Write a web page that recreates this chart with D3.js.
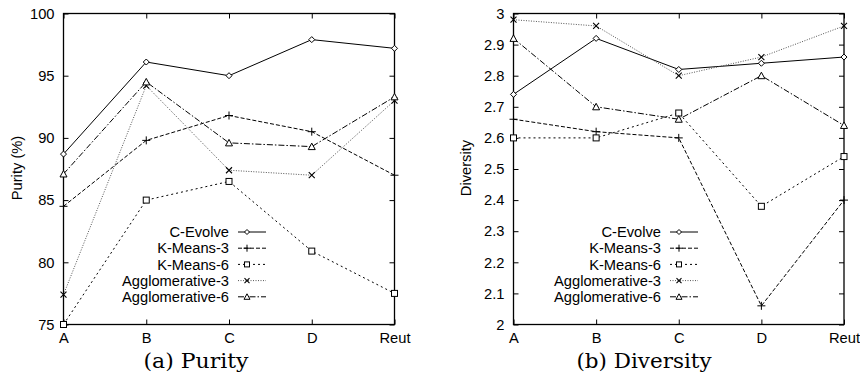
<!DOCTYPE html>
<html>
<head>
<meta charset="utf-8">
<script src="https://cdn.jsdelivr.net/npm/d3@7"></script>
<style>
  body { margin: 0; background: #fff; }
  svg { display: block; }
  text { font-family: "Liberation Sans", Arial, sans-serif; fill: #000; }
</style>
</head>
<body>
<svg id="chart" width="860" height="377"></svg>
<script>
var categories = ["A", "B", "C", "D", "Reut"]
var seriesNames = ["C-Evolve", "K-Means-3", "K-Means-6", "Agglomerative-3", "Agglomerative-6"]

var purityCEvolve = [88.7, 96.1, 95.0, 97.9, 97.2]
var purityKMeans3 = [84.5, 89.8, 91.8, 90.5, 87.0]
var purityKMeans6 = [75.0, 85.0, 86.5, 80.9, 77.5]
var purityAgglo3 = [77.4, 94.2, 87.4, 87.0, 93.0]
var purityAgglo6 = [87.1, 94.5, 89.6, 89.3, 93.3]
var purityTicks = [75, 80, 85, 90, 95, 100]

var diversityCEvolve = [2.74, 2.92, 2.82, 2.84, 2.86]
var diversityKMeans3 = [2.66, 2.62, 2.60, 2.06, 2.40]
var diversityKMeans6 = [2.60, 2.60, 2.68, 2.38, 2.54]
var diversityAgglo3 = [2.98, 2.96, 2.80, 2.86, 2.96]
var diversityAgglo6 = [2.92, 2.70, 2.66, 2.80, 2.64]
var diversityTicks = [2, 2.1, 2.2, 2.3, 2.4, 2.5, 2.6, 2.7, 2.8, 2.9, 3]

// line look per series, gnuplot-ish
var styles = [
  { dash: null, color: "#000", marker: "diamond" },
  { dash: "4,2", color: "#000", marker: "plus" },
  { dash: "2,3", color: "#000", marker: "square" },
  { dash: "1,1.5", color: "#555", marker: "cross" },
  { dash: "6,2,1.5,2", color: "#000", marker: "triangle" }
]

var fontSize = 14.7

var svg = d3.select("#chart")

function drawMarker(g, type, x, y, s) {
  if (type == "diamond") {
    g.append("path").attr("d", `M${x},${y - s}L${x + s},${y}L${x},${y + s}L${x - s},${y}Z`)
      .attr("fill", "#fff").attr("stroke", "#000").attr("stroke-width", 1)
  } else if (type == "plus") {
    g.append("path").attr("d", `M${x - s - 1},${y}H${x + s + 1}M${x},${y - s - 1}V${y + s + 1}`)
      .attr("stroke", "#000").attr("stroke-width", 1)
  } else if (type == "square") {
    g.append("rect").attr("x", x - s).attr("y", y - s).attr("width", 2 * s).attr("height", 2 * s)
      .attr("fill", "#fff").attr("stroke", "#000").attr("stroke-width", 1)
  } else if (type == "cross") {
    g.append("path").attr("d", `M${x - s},${y - s}L${x + s},${y + s}M${x - s},${y + s}L${x + s},${y - s}`)
      .attr("stroke", "#000").attr("stroke-width", 1.1)
  } else if (type == "triangle") {
    g.append("path").attr("d", `M${x},${y - s - 0.5}L${x + s + 0.5},${y + s}L${x - s - 0.5},${y + s}Z`)
      .attr("fill", "#fff").attr("stroke", "#000").attr("stroke-width", 1)
  }
}

function drawPanel(opts) {
  var xScale = d3.scalePoint()
    .domain(categories)
    .range([opts.left, opts.right])

  var yScale = d3.scaleLinear()
    .domain(opts.domain)
    .range([324.5, 13.5])

  var g = svg.append("g")

  // ticks all four sides, pointing inwards
  var tickLen = 5
  var xAxisBottom = d3.axisBottom(xScale).tickSize(-tickLen).tickPadding(8)
  g.append("g").attr("transform", `translate(0,${yScale.range()[0]})`).call(xAxisBottom)
    .call(a => a.select(".domain").remove())
    .call(a => a.selectAll("text").attr("font-size", fontSize).attr("dy", "0.72em"))
  var xAxisTop = d3.axisTop(xScale).tickSize(-tickLen).tickFormat("")
  g.append("g").attr("transform", `translate(0,${yScale.range()[1]})`).call(xAxisTop)
    .call(a => a.select(".domain").remove())

  var yAxisLeft = d3.axisLeft(yScale).tickValues(opts.ticks).tickSize(-tickLen).tickPadding(9)
    .tickFormat(d3.format(opts.fmt))
  g.append("g").attr("transform", `translate(${opts.left},0)`).call(yAxisLeft)
    .call(a => a.select(".domain").remove())
    .call(a => a.selectAll("text").attr("font-size", fontSize))
  var yAxisRight = d3.axisRight(yScale).tickValues(opts.ticks).tickSize(-tickLen).tickFormat("")
  g.append("g").attr("transform", `translate(${opts.right},0)`).call(yAxisRight)
    .call(a => a.select(".domain").remove())

  g.selectAll(".tick line").attr("stroke", "#000")

  // frame
  g.append("rect")
    .attr("x", opts.left).attr("y", yScale.range()[1])
    .attr("width", opts.right - opts.left).attr("height", yScale.range()[0] - yScale.range()[1])
    .attr("fill", "none").attr("stroke", "#000").attr("stroke-width", 1.3)

  var line = d3.line()
    .x((d, i) => xScale(categories[i]))
    .y(d => yScale(d))

  opts.series.forEach(function (values, k) {
    var st = styles[k]
    g.append("path")
      .attr("d", line(values))
      .attr("fill", "none")
      .attr("stroke", st.color)
      .attr("stroke-width", 1)
      .attr("stroke-dasharray", st.dash)
  })
  opts.series.forEach(function (values, k) {
    values.forEach(function (v, i) {
      drawMarker(g, styles[k].marker, xScale(categories[i]), yScale(v), 3)
    })
  })

  // legend
  var leg = g.append("g")
  seriesNames.forEach(function (name, k) {
    var y = 232 + k * 16.2
    leg.append("text")
      .attr("x", opts.legendX).attr("y", y)
      .attr("text-anchor", "end").attr("dy", "0.35em")
      .attr("font-size", fontSize)
      .text(name)
    leg.append("line")
      .attr("x1", opts.legendX + 9).attr("x2", opts.legendX + 37)
      .attr("y1", y).attr("y2", y)
      .attr("stroke", styles[k].color)
      .attr("stroke-width", 1)
      .attr("stroke-dasharray", styles[k].dash)
    drawMarker(leg, styles[k].marker, opts.legendX + 18, y, 2.5)
  })

  // axis title
  g.append("text")
    .attr("transform", `translate(${opts.titleX},168) rotate(-90)`)
    .attr("text-anchor", "middle").attr("dy", "0.35em")
    .attr("font-size", fontSize)
    .text(opts.title)

  // caption
  g.append("text")
    .attr("x", opts.captionX).attr("y", 368)
    .attr("text-anchor", "middle")
    .style("font-family", "'DejaVu Serif', serif")
    .attr("font-size", 20)
    .attr("textLength", opts.captionW).attr("lengthAdjust", "spacingAndGlyphs")
    .text(opts.caption)
}

drawPanel({
  left: 63.5, right: 394.5, domain: [75, 100], ticks: purityTicks, fmt: "d",
  series: [purityCEvolve, purityKMeans3, purityKMeans6, purityAgglo3, purityAgglo6],
  legendX: 229, title: "Purity (%)", titleX: 17,
  caption: "(a) Purity", captionX: 196, captionW: 105
})

drawPanel({
  left: 513.5, right: 844, domain: [2, 3], ticks: diversityTicks, fmt: "",
  series: [diversityCEvolve, diversityKMeans3, diversityKMeans6, diversityAgglo3, diversityAgglo6],
  legendX: 661, title: "Diversity", titleX: 466,
  caption: "(b) Diversity", captionX: 644, captionW: 135
})
</script>
</body>
</html>
